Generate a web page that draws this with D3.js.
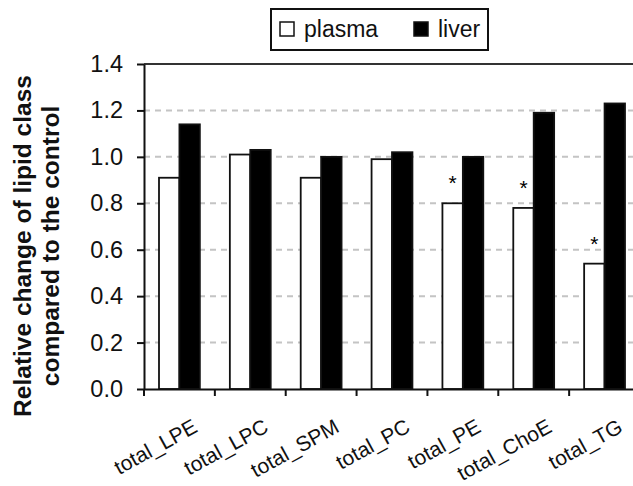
<!DOCTYPE html>
<html>
<head>
<meta charset="utf-8">
<script src="https://cdn.jsdelivr.net/npm/d3@7"></script>
<style>
  body { margin: 0; background: #fff; }
  svg { display: block; font-family: "Liberation Sans", Arial, sans-serif; }
</style>
</head>
<body>
<div id="chart"></div>
<script>
// lipid classes on the x axis
const categories = ['total_LPE', 'total_LPC', 'total_SPM', 'total_PC', 'total_PE', 'total_ChoE', 'total_TG']
const seriesNames = ['plasma', 'liver']
const plasma = [0.91, 1.01, 0.91, 0.99, 0.80, 0.78, 0.54]
const liver = [1.14, 1.03, 1.00, 1.02, 1.00, 1.19, 1.23]
// asterisk over the plasma bar
const significant = [false, false, false, false, true, true, true]
const yTicks = [0, 0.2, 0.4, 0.6, 0.8, 1.0, 1.2, 1.4]

const W = 633, H = 486
const margin = {top: 64, left: 144, bottom: 97}
const plotRight = 640
const plotBottom = H - margin.bottom

const svg = d3.select('#chart').append('svg').attr('width', W).attr('height', H)

const x = d3.scaleBand().domain(categories).range([margin.left, plotRight])
const bw = x.bandwidth()
const x1 = d3.scaleBand().domain(seriesNames).range([15, bw - 15])
const y = d3.scaleLinear().domain([0, 1.4]).range([plotBottom, margin.top])

// dashed grid
svg.append('g').selectAll('line')
  .data(yTicks.filter(t => t > 0 && t < 1.4))
  .enter().append('line')
  .attr('x1', margin.left).attr('x2', W)
  .attr('y1', d => y(d)).attr('y2', d => y(d))
  .attr('stroke', '#c4c4c4').attr('stroke-width', 2)
  .attr('stroke-dasharray', '6,5')

// top frame line
svg.append('line')
  .attr('x1', margin.left).attr('x2', W)
  .attr('y1', y(1.4)).attr('y2', y(1.4))
  .attr('stroke', '#333').attr('stroke-width', 2)

const rows = categories.map((c, i) => ({cat: c, plasma: plasma[i], liver: liver[i], sig: significant[i]}))

const groups = svg.append('g').selectAll('g').data(rows).enter().append('g')
  .attr('transform', d => `translate(${x(d.cat)},0)`)

groups.append('rect')
  .attr('x', x1('plasma')).attr('width', x1.bandwidth())
  .attr('y', d => y(d.plasma)).attr('height', d => y(0) - y(d.plasma))
  .attr('fill', '#fff').attr('stroke', '#111').attr('stroke-width', 1.8)

groups.append('rect')
  .attr('x', x1('liver')).attr('width', x1.bandwidth())
  .attr('y', d => y(d.liver)).attr('height', d => y(0) - y(d.liver))
  .attr('fill', '#000').attr('stroke', '#111').attr('stroke-width', 1.8)

groups.filter(d => d.sig).append('text')
  .attr('x', x1('plasma') + x1.bandwidth() / 2)
  .attr('y', d => y(d.plasma) - 13)
  .attr('text-anchor', 'middle')
  .attr('font-size', 21)
  .text('*')

// y axis
const yAxis = d3.axisLeft(y).tickValues(yTicks).tickFormat(d3.format('.1f'))
  .tickSize(7).tickSizeOuter(0).tickPadding(14)
svg.append('g').attr('transform', `translate(${margin.left},0)`).call(yAxis)
  .call(g => g.select('.domain').attr('stroke', '#111').attr('stroke-width', 2))
  .call(g => g.selectAll('.tick line').attr('stroke', '#111').attr('stroke-width', 2))
  .call(g => g.selectAll('.tick text').attr('font-size', 23.5).attr('fill', '#111')
    .attr('font-family', '"Liberation Sans", Arial, sans-serif'))

// x axis, ticks at category boundaries
const xAxis = d3.axisBottom(x).tickSize(7).tickSizeOuter(0).tickFormat('')
svg.append('g').attr('transform', `translate(0,${plotBottom})`).call(xAxis)
  .call(g => g.select('.domain').attr('stroke', '#111').attr('stroke-width', 2))
  .call(g => g.selectAll('.tick line').attr('stroke', '#111').attr('stroke-width', 2)
    .attr('transform', `translate(${-bw / 2},0)`))
  .call(g => g.selectAll('.tick').append('text')
    .attr('fill', '#111')
    .attr('font-size', 21)
    .attr('text-anchor', 'end')
    .attr('transform', `translate(${bw / 2 - 16},42) rotate(-29)`)
    .text(d => d))

// y axis title
const title = svg.append('text')
  .attr('transform', 'translate(0,246) rotate(-90)')
  .attr('text-anchor', 'middle')
  .attr('font-weight', 'bold').attr('font-size', 24.5).attr('fill', '#111')
title.append('tspan').attr('x', 0).attr('y', 31).text('Relative change of lipid class')
title.append('tspan').attr('x', 0).attr('y', 59).text('compared to the control')

// legend
const legend = svg.append('g')
legend.append('rect').attr('x', 271).attr('y', 9).attr('width', 217).attr('height', 41)
  .attr('fill', '#fff').attr('stroke', '#111').attr('stroke-width', 2)
const legendItems = [{name: 'plasma', fill: '#fff', x: 280}, {name: 'liver', fill: '#000', x: 414}]
const li = legend.selectAll('g.item').data(legendItems).enter().append('g').attr('class', 'item')
li.append('rect').attr('x', d => d.x).attr('y', 22).attr('width', 14).attr('height', 14)
  .attr('fill', d => d.fill).attr('stroke', '#111').attr('stroke-width', 1.5)
li.append('text').attr('x', d => d.x + 24).attr('y', 37)
  .attr('font-size', 23).attr('fill', '#111')
  .text(d => d.name)
</script>
</body>
</html>
